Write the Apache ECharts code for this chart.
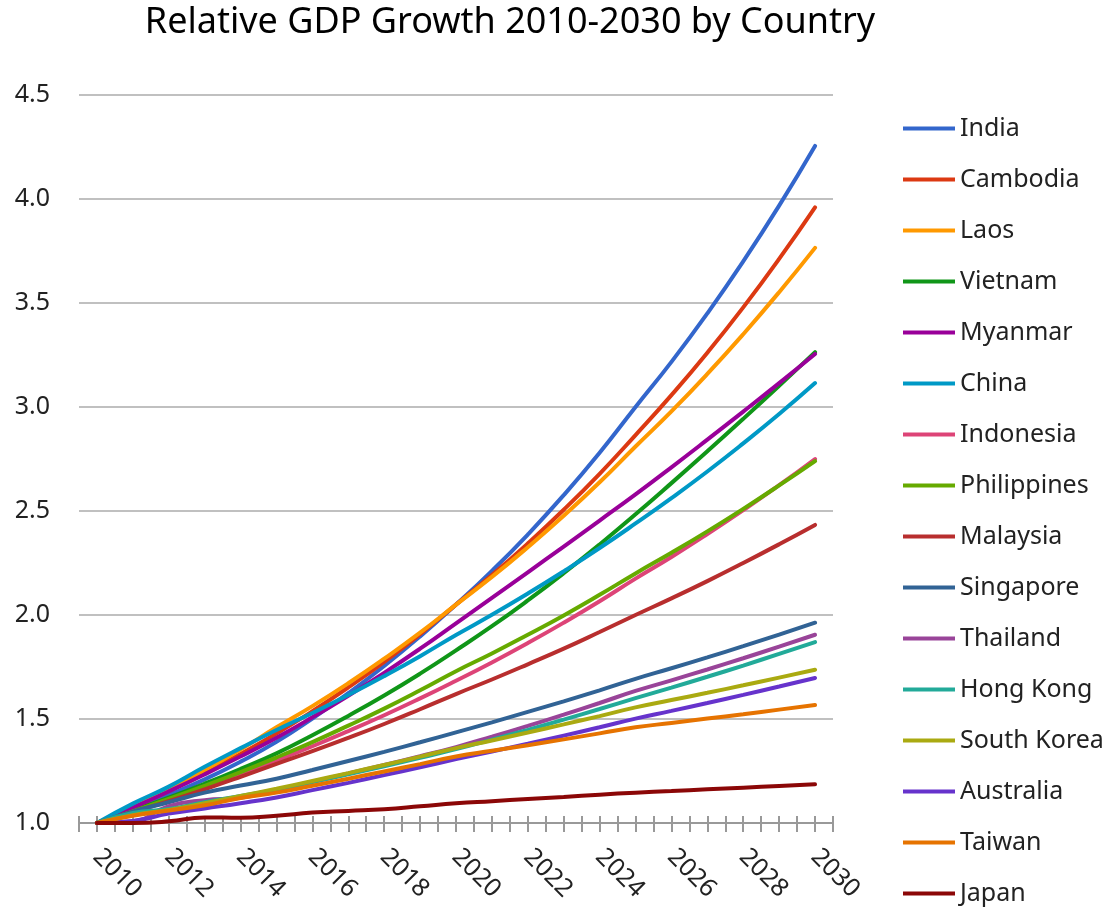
<!DOCTYPE html>
<html>
<head>
<meta charset="utf-8">
<script src="https://cdn.jsdelivr.net/npm/echarts@6/dist/echarts.min.js"></script>
<style>html,body{margin:0;padding:0;background:#fff}#c{width:1106px;height:907px}</style>
</head>
<body>
<div id="c"></div>
<script>
const years = [2010,2011,2012,2013,2014,2015,2016,2017,2018,2019,2020,2021,2022,2023,2024,2025,2026,2027,2028,2029,2030];
const countries = ['India','Cambodia','Laos','Vietnam','Myanmar','China','Indonesia','Philippines','Malaysia','Singapore','Thailand','Hong Kong','South Korea','Australia','Taiwan','Japan'];
const colors = ['#3366cc','#dc3912','#ff9900','#109618','#990099','#0099c6','#dd4477','#66aa00','#b82e2e','#316395','#994499','#22aa99','#aaaa11','#6633cc','#e67300','#8b0707'];
const yTicks = [1.0,1.5,2.0,2.5,3.0,3.5,4.0,4.5];

const india       = [1.0,1.065,1.135,1.21,1.295,1.39,1.502,1.624,1.755,1.897,2.05,2.212,2.387,2.576,2.78,3.0,3.217,3.45,3.70,3.968,4.255];
const cambodia    = [1.0,1.074,1.154,1.24,1.332,1.43,1.537,1.652,1.775,1.908,2.05,2.192,2.344,2.506,2.679,2.865,3.057,3.261,3.479,3.712,3.96];
const laos        = [1.0,1.079,1.163,1.255,1.353,1.46,1.562,1.672,1.79,1.915,2.05,2.183,2.326,2.477,2.638,2.81,2.979,3.159,3.35,3.552,3.765];
const vietnam     = [1.0,1.059,1.122,1.189,1.26,1.335,1.422,1.515,1.613,1.718,1.83,1.946,2.07,2.201,2.339,2.484,2.634,2.787,2.943,3.102,3.264];
const myanmar     = [1.0,1.074,1.152,1.234,1.32,1.41,1.508,1.612,1.722,1.838,1.96,2.082,2.205,2.329,2.454,2.58,2.71,2.843,2.978,3.115,3.255];
const china       = [1.0,1.093,1.175,1.27,1.36,1.447,1.529,1.615,1.706,1.802,1.904,2.001,2.103,2.21,2.322,2.44,2.562,2.69,2.825,2.966,3.115];
const indonesia   = [1.0,1.054,1.111,1.17,1.234,1.30,1.369,1.442,1.518,1.599,1.684,1.772,1.865,1.963,2.066,2.175,2.279,2.389,2.504,2.624,2.75];
const philippines = [1.0,1.056,1.116,1.179,1.245,1.315,1.389,1.468,1.55,1.638,1.73,1.815,1.905,1.998,2.097,2.20,2.299,2.402,2.51,2.623,2.74];
const malaysia    = [1.0,1.051,1.105,1.162,1.222,1.284,1.345,1.409,1.476,1.547,1.62,1.69,1.763,1.838,1.918,2.0,2.08,2.163,2.25,2.34,2.433];
const singapore   = [1.0,1.055,1.10,1.146,1.18,1.213,1.255,1.298,1.342,1.388,1.436,1.484,1.534,1.585,1.638,1.693,1.744,1.796,1.85,1.906,1.963];
const thailand    = [1.0,1.008,1.081,1.11,1.121,1.16,1.198,1.238,1.279,1.321,1.365,1.415,1.467,1.521,1.577,1.635,1.686,1.738,1.792,1.848,1.905];
const hongkong    = [1.0,1.048,1.067,1.10,1.13,1.16,1.197,1.234,1.273,1.313,1.355,1.401,1.448,1.497,1.548,1.60,1.651,1.703,1.757,1.813,1.87];
const southkorea  = [1.0,1.038,1.063,1.095,1.13,1.165,1.202,1.24,1.279,1.319,1.36,1.397,1.435,1.474,1.514,1.556,1.591,1.626,1.662,1.699,1.737];
const australia   = [1.0,1.01,1.045,1.07,1.095,1.123,1.158,1.193,1.23,1.268,1.307,1.344,1.381,1.42,1.46,1.502,1.539,1.577,1.616,1.656,1.697];
const taiwan      = [1.0,1.035,1.06,1.085,1.12,1.146,1.179,1.213,1.248,1.283,1.32,1.347,1.374,1.402,1.431,1.46,1.481,1.502,1.523,1.545,1.567];
const japan       = [1.0,1.0,1.008,1.027,1.025,1.035,1.05,1.058,1.066,1.08,1.095,1.105,1.115,1.125,1.136,1.146,1.154,1.162,1.17,1.178,1.186];

const values = [india,cambodia,laos,vietnam,myanmar,china,indonesia,philippines,malaysia,singapore,thailand,hongkong,southkorea,australia,taiwan,japan];

const FONT = 'Noto Sans';
const chart = echarts.init(document.getElementById('c'));
const axisCommon = {
  type: 'value', min: 2009.5, max: 2030.5, interval: 0.5, position: 'bottom'
};
const legendCommon = {
  orient: 'vertical', left: 903, padding: 0,
  itemWidth: 52, itemHeight: 4, itemGap: 26, icon: 'rect',
  textStyle: { fontFamily: FONT, fontSize: 25, color: '#222', lineHeight: 22 }
};
chart.setOption({
  animation: false,
  color: colors,
  title: {
    text: 'Relative GDP Growth 2010-2030 by Country',
    left: 505, top: 0, textAlign: 'center',
    textStyle: { fontFamily: FONT, fontSize: 36, fontWeight: 'normal', color: '#000' }
  },
  legend: [
    Object.assign({}, legendCommon, { top: 116, data: countries.slice(0, 8) }),
    Object.assign({}, legendCommon, { top: 524, data: countries.slice(8) })
  ],
  grid: { left: 79, right: 273, top: 95, bottom: 84, containLabel: false },
  xAxis: [
    Object.assign({}, axisCommon, {
      axisLine: { show: true, lineStyle: { color: '#999', width: 2 } },
      axisTick: { show: true, length: 9, lineStyle: { color: '#999', width: 2 } },
      splitLine: { show: false },
      axisLabel: {
        rotate: -45, margin: 30, fontFamily: FONT, fontSize: 25, color: '#222',
        showMinLabel: true, showMaxLabel: true,
        formatter: v => (Math.abs(v - Math.round(v)) < 1e-6 && Math.round(v) % 2 === 0) ? String(Math.round(v)) : ''
      }
    }),
    Object.assign({}, axisCommon, {
      axisLine: { show: false },
      axisTick: { show: true, inside: true, length: 7, lineStyle: { color: '#999', width: 2 } },
      splitLine: { show: false },
      axisLabel: { show: false }
    })
  ],
  yAxis: {
    type: 'value', min: 1.0, max: 4.5, interval: 0.5,
    axisLine: { show: false }, axisTick: { show: false },
    splitLine: { lineStyle: { color: '#c0c0c0', width: 2 } },
    axisLabel: { margin: 29, fontFamily: FONT, fontSize: 25, color: '#222', formatter: v => v.toFixed(1) }
  },
  series: countries.map((name, i) => ({
    name: name, type: 'line', xAxisIndex: 0, smooth: true, showSymbol: false, symbol: 'none',
    lineStyle: { width: 4, cap: 'round', color: colors[i] },
    itemStyle: { color: colors[i] },
    data: years.map((y, j) => [y, values[i][j]])
  }))
});
</script>
</body>
</html>
